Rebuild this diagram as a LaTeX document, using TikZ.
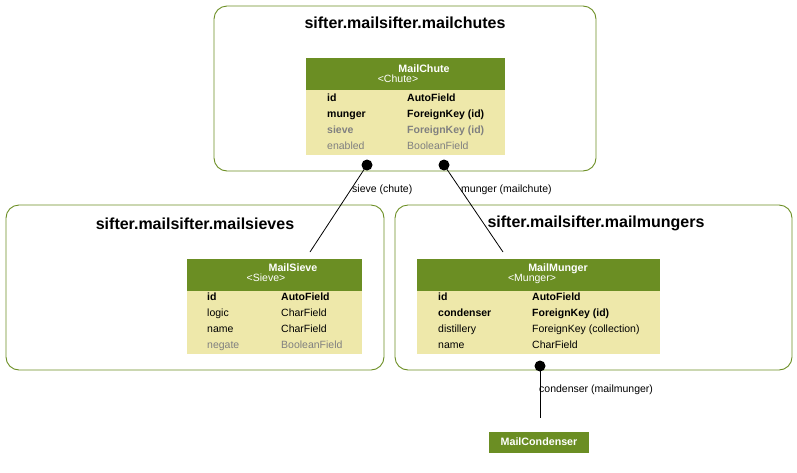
\documentclass[tikz,border=0pt]{standalone}
\usepackage{fontspec}
\setmainfont{Liberation Sans}
\definecolor{olive}{HTML}{6B8E23}
\definecolor{pale}{HTML}{EEE8AA}
\definecolor{grayt}{HTML}{808080}
\begin{document}
\begin{tikzpicture}[x=1pt,y=-1pt,
  cluster/.style={draw=olive, line width=0.9pt, rounded corners=13pt, inner sep=0pt},
  ctitle/.style={font=\bfseries\fontsize{16}{18}\selectfont, inner sep=0pt},
  hdr/.style={fill=olive, inner sep=0pt, draw=none},
  rows/.style={fill=pale, inner sep=0pt, draw=none},
  tx/.style={inner sep=0pt, text height=8.4pt, text depth=2.2pt},
  hname/.style={tx, text=white, font=\bfseries\fontsize{10.7}{12}\selectfont},
  hsub/.style={tx, text=white, font=\fontsize{10.5}{12}\selectfont},
  fb/.style={tx, anchor=west, font=\bfseries\fontsize{10.5}{12}\selectfont},
  fn/.style={tx, anchor=west, font=\fontsize{10.5}{12}\selectfont},
  fg/.style={tx, anchor=west, text=grayt, font=\fontsize{10.5}{12}\selectfont},
  fgb/.style={tx, anchor=west, text=grayt, font=\bfseries\fontsize{10.5}{12}\selectfont},
  dot/.style={circle, fill=black, inner sep=0pt, minimum size=11pt},
  edge/.style={draw=black, line width=0.8pt},
  elabel/.style={tx, anchor=west, font=\fontsize{10.5}{12}\selectfont}]
\useasboundingbox (0,0) rectangle (797,472);
% clusters
\node[cluster, minimum width=382pt, minimum height=165pt] (cchutes) at (405,88.5) {};
\node[ctitle] (tchutes) at (405,23) {sifter.mailsifter.mailchutes};
\node[cluster, minimum width=378pt, minimum height=165pt] (csieves) at (195,287.5) {};
\node[ctitle] (tsieves) at (195,223.5) {sifter.mailsifter.mailsieves};
\node[cluster, minimum width=397pt, minimum height=165pt] (cmungers) at (593.5,287.5) {};
\node[ctitle] (tmungers) at (596,223.5) {sifter.mailsifter.mailmungers};
% MailChute
\node[hdr, minimum width=199pt, minimum height=32pt] (chuteh) at (405.5,74) {};
\node[rows, minimum width=199pt, minimum height=65pt] (chuter) at (405.5,122.5) {};
\node[hname] (chuten) at (424,69) {MailChute};
\node[hsub] (chutes) at (398,79) {<Chute>};
\node[fb] (c1a) at (327,98) {id};
\node[fb] (c1b) at (407,98) {AutoField};
\node[fb] (c2a) at (327,114) {munger};
\node[fb] (c2b) at (407,114) {ForeignKey (id)};
\node[fgb] (c3a) at (327,130) {sieve};
\node[fgb] (c3b) at (407,130) {ForeignKey (id)};
\node[fg] (c4a) at (327,146) {enabled};
\node[fg] (c4b) at (407,146) {BooleanField};
% MailSieve
\node[hdr, minimum width=175pt, minimum height=32pt] (sieveh) at (274.5,275) {};
\node[rows, minimum width=175pt, minimum height=63pt] (siever) at (274.5,322.5) {};
\node[hname] (sieven) at (293,268) {MailSieve};
\node[hsub] (sieves) at (266,278) {<Sieve>};
\node[fb] (s1a) at (207,297) {id};
\node[fb] (s1b) at (281,297) {AutoField};
\node[fn] (s2a) at (207,313) {logic};
\node[fn] (s2b) at (281,313) {CharField};
\node[fn] (s3a) at (207,329) {name};
\node[fn] (s3b) at (281,329) {CharField};
\node[fg] (s4a) at (207,345) {negate};
\node[fg] (s4b) at (281,345) {BooleanField};
% MailMunger
\node[hdr, minimum width=243pt, minimum height=32pt] (mungh) at (538.5,275) {};
\node[rows, minimum width=243pt, minimum height=63pt] (mungr) at (538.5,322.5) {};
\node[hname] (mungn) at (558,268) {MailMunger};
\node[hsub] (mungs) at (532,278) {<Munger>};
\node[fb] (m1a) at (438,297) {id};
\node[fb] (m1b) at (532,297) {AutoField};
\node[fb] (m2a) at (438,313) {condenser};
\node[fb] (m2b) at (532,313) {ForeignKey (id)};
\node[fn] (m3a) at (438,329) {distillery};
\node[fn] (m3b) at (532,329) {ForeignKey (collection)};
\node[fn] (m4a) at (438,345) {name};
\node[fn] (m4b) at (532,345) {CharField};
% MailCondenser
\node[hdr, minimum width=100pt, minimum height=21pt] (cond) at (539,442) {};
\node[hname] (condn) at (539,442) {MailCondenser};
% edges
\node[dot] (d1) at (367,165) {};
\node[dot] (d2) at (444,165) {};
\node[dot] (d3) at (540,366) {};
\coordinate (e1) at (310,252);
\coordinate (e2) at (503,252);
\coordinate (e3) at (540,418);
\draw[edge] (d1.center) -- (e1);
\draw[edge] (d2.center) -- (e2);
\draw[edge] (d3.center) -- (e3);
\node[elabel] (l1) at (352,189) {sieve (chute)};
\node[elabel] (l2) at (461,189) {munger (mailchute)};
\node[elabel] (l3) at (539,389) {condenser (mailmunger)};
\end{tikzpicture}
\end{document}
